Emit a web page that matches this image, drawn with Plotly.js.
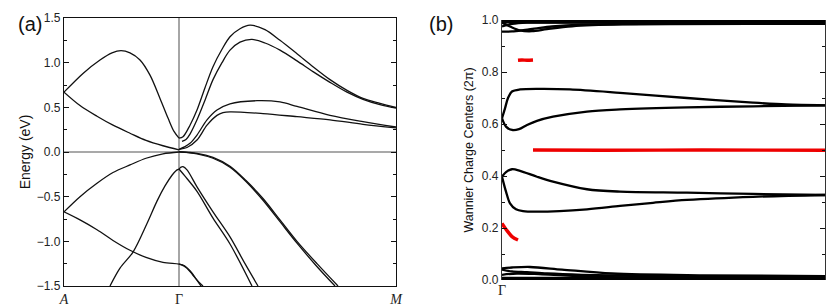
<!DOCTYPE html>
<html><head><meta charset="utf-8">
<script src="https://cdn.plot.ly/plotly-3.0.1.min.js"></script>
<style>html,body{margin:0;padding:0;background:#fff}#c{width:830px;height:306px}</style>
</head><body><div id="c"></div>
<script>
// ---- Panel (a): band structure, k-path distance (A=0, Γ=115, M=332) ----
const kTicks = [0, 115, 332];
const kLabels = ['<i>A</i>', 'Γ', '<i>M</i>'];

const band1K = [0,19,36,48,57,66,76,86,96,104,110,115];
const band1E = [0.67,0.88,1.03,1.11,1.135,1.11,1.03,0.86,0.6,0.38,0.23,0.155];
const band2K = [0,16,33,49,66,82,99,115];
const band2E = [0.67,0.52,0.40,0.30,0.21,0.13,0.07,0.025];
const band3K = [0,16,33,49,66,82,99,115];
const band3E = [-0.67,-0.50,-0.35,-0.23,-0.145,-0.07,-0.02,0.0];
const band4K = [0,16,33,49,66,82,99,115,120,126,132,137];
const band4E = [-0.67,-0.76,-0.87,-0.99,-1.10,-1.18,-1.235,-1.255,-1.27,-1.33,-1.42,-1.5];
const band4bK = [115,117,123,129,136,139];
const band4bE = [-1.255,-1.26,-1.3,-1.38,-1.47,-1.5];
const band5K = [46,56,69,83,93,101,108,112,115,117,119,123,133,149,166,181,194];
const band5E = [-1.5,-1.3,-1.12,-0.80,-0.55,-0.38,-0.26,-0.21,-0.19,-0.17,-0.165,-0.2,-0.39,-0.67,-0.95,-1.25,-1.5];
const band5bK = [115,121,133,149,166,188];
const band5bE = [-0.19,-0.27,-0.44,-0.74,-1.03,-1.5];
const vbRaK = [115,133,149,166,182,199,216,233,253,274];
const vbRaE = [0.0,-0.015,-0.06,-0.16,-0.32,-0.52,-0.76,-1.0,-1.25,-1.5];
const vbRbK = [115,133,149,166,182,199,216,233,252,271];
const vbRbE = [0.005,-0.02,-0.07,-0.17,-0.33,-0.54,-0.78,-1.02,-1.27,-1.5];
const cb1K = [115,119,126,133,141,149,158,166,176,186,201,216,233,249,266,283,299,316,332];
const cb1E = [0.155,0.17,0.3,0.47,0.72,0.955,1.15,1.29,1.38,1.42,1.37,1.25,1.1,0.955,0.81,0.69,0.6,0.545,0.50];
const cb2K = [118,122,126,133,141,149,158,166,176,188,201,216,233,249,266,283,299,316,332];
const cb2E = [0.12,0.14,0.2,0.36,0.58,0.81,1.0,1.14,1.23,1.26,1.22,1.14,1.02,0.90,0.78,0.67,0.59,0.53,0.49];
const cb3K = [115,121,126,133,143,153,166,193,216,233,266,299,332];
const cb3E = [0.03,0.06,0.097,0.19,0.36,0.47,0.54,0.574,0.56,0.51,0.41,0.34,0.28];
const cb4K = [115,123,133,143,153,159,166,199,233,266,299,332];
const cb4E = [0.03,0.05,0.134,0.30,0.41,0.44,0.45,0.43,0.395,0.36,0.31,0.27];

// ---- Panel (b): Wannier charge centers, path distance Γ=0 .. M=323 ----
const tTicks = [0, 323];
const tLabels = ['Γ', '<i>M</i>'];
const wUpAT = [0,3,6,10,18,40,68,118,185,251,284,323];
const wUpAV = [0.622,0.66,0.70,0.725,0.733,0.735,0.733,0.72,0.70,0.682,0.675,0.672];
const wUpBT = [0,4,10,17,25,35,51,85,118,185,251,323];
const wUpBV = [0.622,0.59,0.577,0.58,0.596,0.612,0.628,0.648,0.656,0.664,0.668,0.672];
const wLoAT = [0,4,10,18,35,51,85,118,185,251,323];
const wLoAV = [0.397,0.415,0.426,0.42,0.397,0.378,0.349,0.340,0.336,0.331,0.327];
const wLoBT = [0,4,8,14,21,35,85,118,151,185,251,323];
const wLoBV = [0.397,0.34,0.295,0.272,0.265,0.263,0.272,0.285,0.297,0.308,0.32,0.327];
const top1T = [0,100,200,323], top1V = [0.997,0.997,0.997,0.997];
const top2T = [0,100,200,323], top2V = [0.991,0.991,0.991,0.991];
const top3T = [0,10,20,35,50,80,150,323], top3V = [0.955,0.956,0.96,0.968,0.975,0.982,0.985,0.985];
const top4T = [0,8,18,30,45,70,120,323], top4V = [0.99,0.975,0.96,0.957,0.965,0.976,0.983,0.985];
const top5T = [0,10,25,50,323], top5V = [0.975,0.985,0.99,0.99,0.99];
const bot1T = [0,10,28,60,110,200,323], bot1V = [0.045,0.048,0.05,0.04,0.025,0.018,0.015];
const bot2T = [0,10,25,45,80,150,323], bot2V = [0.04,0.033,0.03,0.025,0.02,0.015,0.012];
const bot3T = [0,15,40,100,323], bot3V = [0.02,0.025,0.022,0.012,0.01];
const bot4T = [0,100,200,323], bot4V = [0.008,0.008,0.008,0.008];
const bot5T = [0,100,200,323], bot5V = [0.003,0.003,0.003,0.003];
const red1T = [16,20,25,31], red1V = [0.845,0.846,0.845,0.846];
const red2T = [31,100,200,323], red2V = [0.5,0.499,0.5,0.499];
const red3T = [0,5,10,16], red3V = [0.218,0.19,0.167,0.154];

const traces = [];
function bandLine(x, y) {
  traces.push({x, y, xaxis:'x', yaxis:'y', mode:'lines', type:'scatter',
    line:{color:'#111', width:1.3, shape:'spline', smoothing:0.9}, hoverinfo:'skip'});
}
[[band1K,band1E],[band2K,band2E],[band3K,band3E],[band4K,band4E],[band4bK,band4bE],
 [band5K,band5E],[band5bK,band5bE],[vbRaK,vbRaE],[vbRbK,vbRbE],
 [cb1K,cb1E],[cb2K,cb2E],[cb3K,cb3E],[cb4K,cb4E]].forEach(p=>bandLine(p[0],p[1]));

function wcc(x, y, color, w) {
  traces.push({x, y, xaxis:'x2', yaxis:'y2', mode:'lines', type:'scatter',
    line:{color, width:w, shape:'spline', smoothing:0.9}, hoverinfo:'skip'});
}
[[wUpAT,wUpAV],[wUpBT,wUpBV],[wLoAT,wLoAV],[wLoBT,wLoBV],
 [top1T,top1V],[top2T,top2V],[top3T,top3V],[top4T,top4V],[top5T,top5V],
 [bot1T,bot1V],[bot2T,bot2V],[bot3T,bot3V],[bot4T,bot4V],[bot5T,bot5V]].forEach(p=>wcc(p[0],p[1],'#000',2.3));
[[red1T,red1V],[red2T,red2V],[red3T,red3V]].forEach(p=>wcc(p[0],p[1],'#ee0000',3.4));

const tickFont = {family:'Liberation Sans, Arial, sans-serif', size:12, color:'#222'};
const kFont = {family:'Liberation Serif, Times New Roman, serif', size:14, color:'#222'};

const layout = {
  width:830, height:306, margin:{l:0,r:0,t:0,b:0},
  paper_bgcolor:'#fff', plot_bgcolor:'#fff', showlegend:false,
  xaxis:{domain:[64/830, 396/830], range:[0,332], showgrid:false, zeroline:false,
    showline:true, mirror:true, linecolor:'#111', linewidth:1.2,
    ticks:'', tickvals:kTicks, ticktext:kLabels, tickfont:kFont, anchor:'y'},
  yaxis:{domain:[1-286/306, 1-18/306], range:[-1.5,1.5], showgrid:false, zeroline:false,
    showline:true, mirror:'ticks', linecolor:'#111', linewidth:1.2,
    ticks:'inside', ticklen:5, tickcolor:'#111', dtick:0.5, tick0:0, tickformat:'.1f',
    minor:{dtick:0.25, ticks:'inside', ticklen:3, tickcolor:'#111'},
    tickfont:tickFont, anchor:'x',
    title:{text:'Energy (eV)', font:{family:'Liberation Sans, Arial, sans-serif', size:14, color:'#111'}, standoff:2}},
  xaxis2:{domain:[502/830, 825/830], range:[0,323], showgrid:false, zeroline:false,
    showline:false, ticks:'', tickvals:tTicks, ticktext:tLabels, tickfont:kFont, anchor:'y2'},
  yaxis2:{domain:[1-280/306, 1-20/306], range:[0,1], showgrid:false, zeroline:false,
    showline:true, mirror:'ticks', linecolor:'#333', linewidth:1.2,
    ticks:'inside', ticklen:5, tickcolor:'#111', dtick:0.2, tick0:0, tickformat:'.1f',
    minor:{dtick:0.1, ticks:'inside', ticklen:3, tickcolor:'#111'},
    tickfont:tickFont, anchor:'x2',
    title:{text:'Wannier Charge Centers (2π)', font:{family:'Liberation Sans, Arial, sans-serif', size:12.5, color:'#111'}, standoff:5}},
  shapes:[
    {type:'line', xref:'x', yref:'y', x0:115, x1:115, y0:-1.5, y1:1.5, line:{color:'#808080', width:1.4}, layer:'below'},
    {type:'line', xref:'x', yref:'y', x0:0, x1:332, y0:0, y1:0, line:{color:'#555', width:1.2}, layer:'below'}
  ],
  annotations:[
    {text:'(a)', xref:'paper', yref:'paper', x:16/830, y:1-11/306, showarrow:false,
      font:{family:'Liberation Sans, Arial, sans-serif', size:20, color:'#111'}},
    {text:'(b)', xref:'paper', yref:'paper', x:441/830, y:1-11/306, showarrow:false,
      font:{family:'Liberation Sans, Arial, sans-serif', size:20, color:'#111'}}
  ]
};
Plotly.newPlot('c', traces, layout, {staticPlot:true, displayModeBar:false});
</script></body></html>
